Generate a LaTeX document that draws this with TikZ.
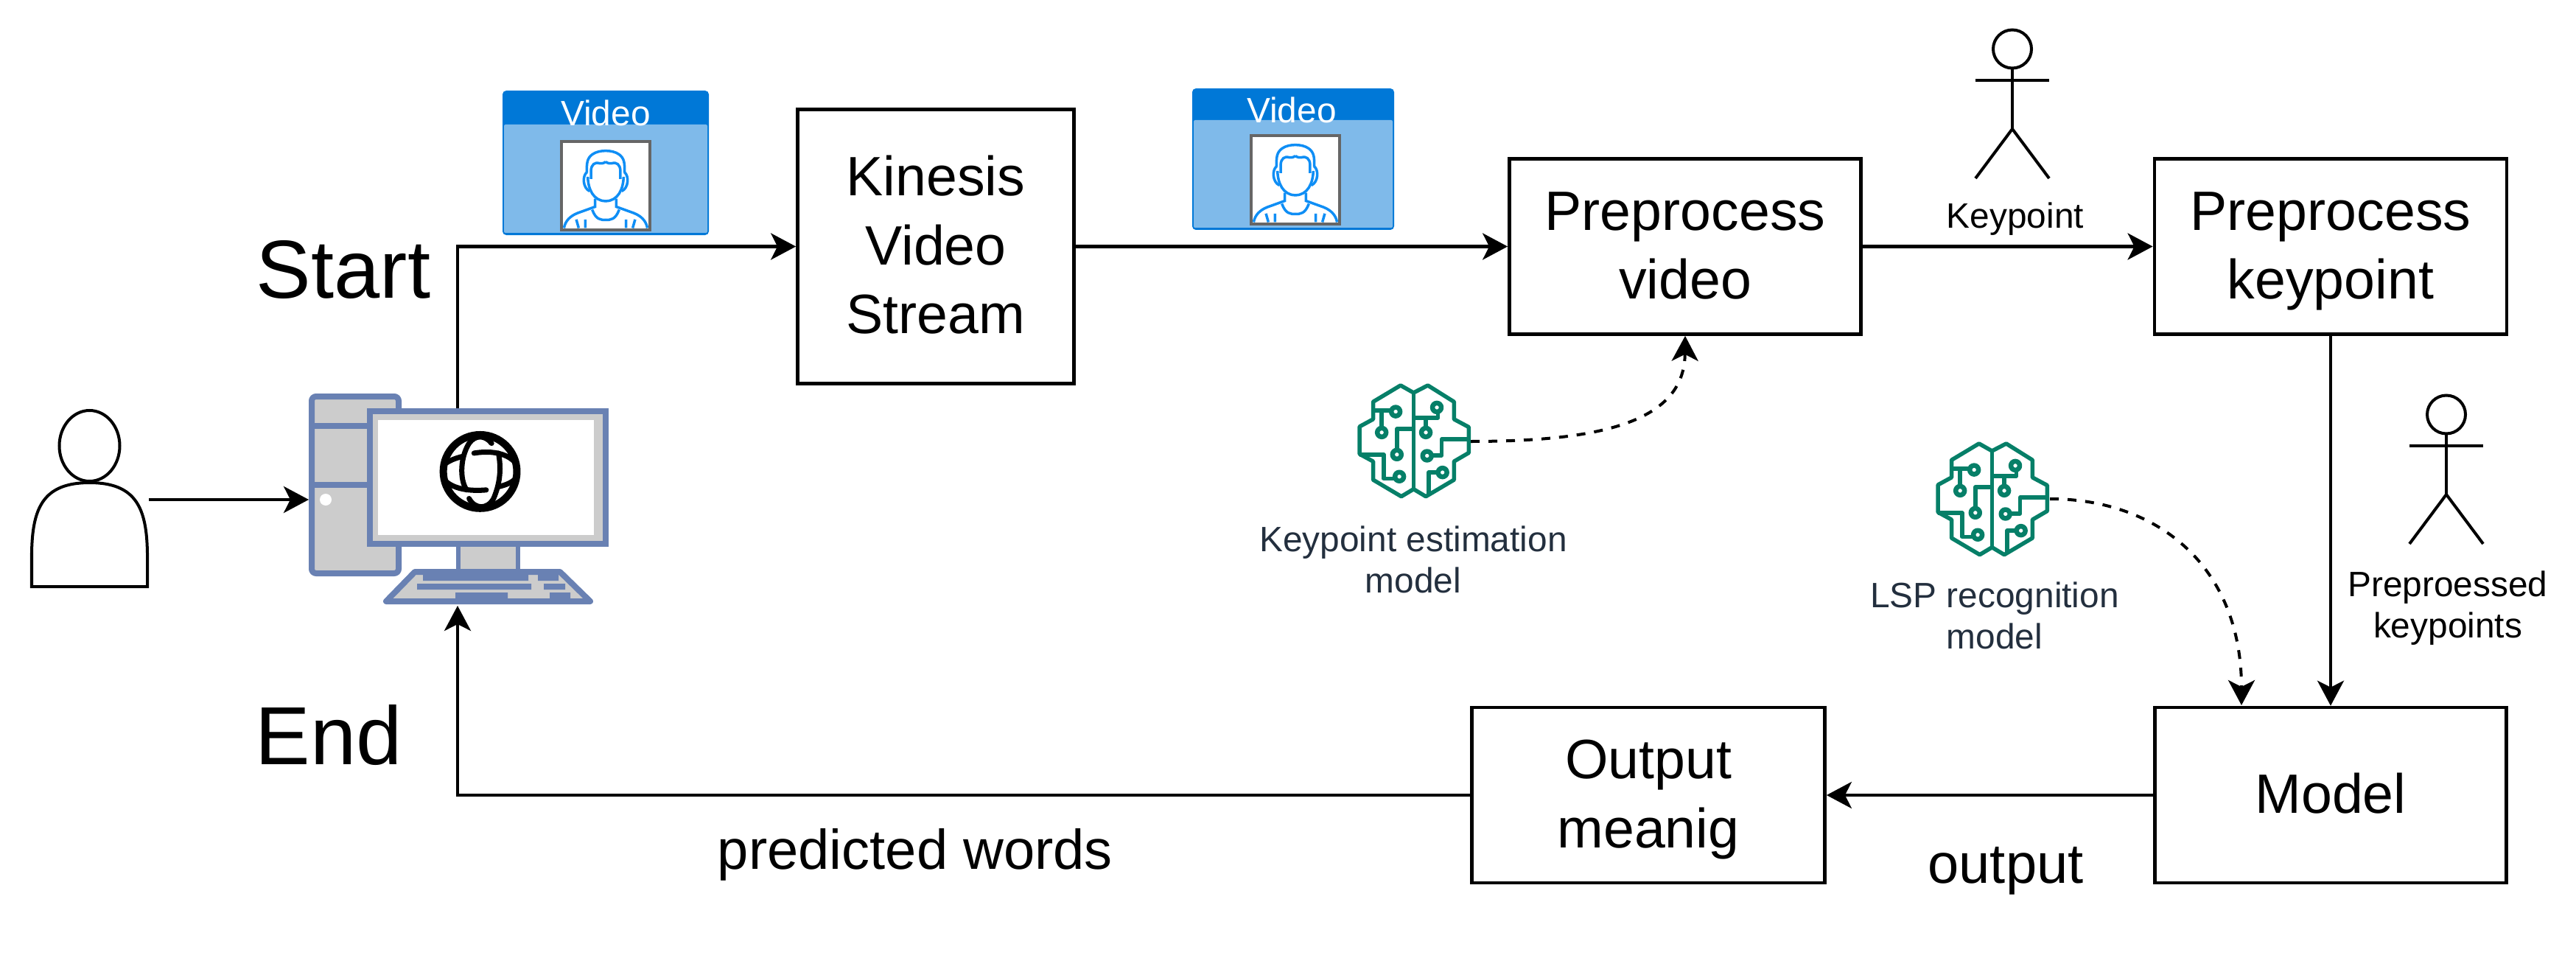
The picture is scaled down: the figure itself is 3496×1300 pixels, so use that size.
\documentclass[tikz,border=0pt]{standalone}
\usepackage{fontspec}
\setmainfont{Liberation Sans}
\usetikzlibrary{arrows.meta}

\definecolor{pcblue}{HTML}{6981B3}
\definecolor{pcgray}{HTML}{CCCCCC}
\definecolor{carddark}{HTML}{0078D7}
\definecolor{cardlight}{HTML}{7FBAEA}
\definecolor{faceblue}{HTML}{0F8EF5}
\definecolor{framegray}{HTML}{666666}
\definecolor{braingreen}{HTML}{067F68}
\definecolor{modeltext}{HTML}{232F3E}

\newcommand{\boxfont}{\fontsize{21.4}{26.5}\selectfont}
\newcommand{\smallfont}{\fontsize{13.6}{15.9}\selectfont}
\newcommand{\bigfont}{\fontsize{31.8}{36}\selectfont}
\newcommand{\midfont}{\fontsize{21.6}{24}\selectfont}
\newcommand{\lift}{\rule{0pt}{0.66cm}}

\tikzset{
	procbox/.style={draw,line width=0.045cm,font=\boxfont,align=center,inner sep=0pt,
		execute at end node={\rule[-0.17cm]{0pt}{0.17cm}}},
	note/.style={font=\smallfont,align=center,inner sep=0pt},
	modelnote/.style={note,text=modeltext},
	flow/.style={line width=0.04cm,-{Stealth[length=0.34cm,width=0.36cm,inset=0.09cm]}},
	dashflow/.style={flow,dash pattern=on 0.12cm off 0.12cm},
	pcpart/.style={draw=pcblue,fill=pcgray,line width=0.08cm},
	stick/.style={line width=0.04cm},
	brainline/.style={draw=braingreen,line width=0.055cm,line join=round,x=0.00333cm,y=-0.00333cm},
	brain/.pic={
		\draw[brainline] (415,160) -- (362,130) -- (250,197) -- (250,268) -- (195,298) -- (195,410) -- (250,440) -- (250,515) -- (365,583) -- (415,553) -- (465,583) -- (580,515) -- (580,440) -- (640,405) -- (640,300) -- (580,268) -- (580,197) -- (473,130) -- cycle;
		\draw[brainline] (415,160) -- (415,553);
		\draw[brainline] (250,233) -- (320,233) (285,233) -- (285,300);
		\draw[brainline] (415,307) -- (347,307) -- (347,390);
		\draw[brainline] (195,412) -- (293,412) -- (293,510) -- (335,510);
		\draw[brainline] (415,262) -- (515,262) -- (515,240) (465,262) -- (465,300);
		\draw[brainline] (640,350) -- (530,350) -- (530,415) -- (495,415);
		\draw[brainline] (510,485) -- (477,485) -- (477,575);
		\foreach \cx/\cy in {342/237,285/322,347/412,357/502,510/220,465/322,470/417,533/485}
		\draw[brainline,fill=white,line width=0.065cm] (\cx,\cy) circle (18);
	}
}

\begin{document}
\begin{tikzpicture}[x=0.01cm,y=-0.01cm]
	\useasboundingbox (0,0) rectangle (3496,1300);

	% Persona
	\draw[line width=0.04cm] (121.5,605) ellipse (41 and 48);
	\draw[line width=0.04cm] (43,796) -- (43,750) .. controls (44,690) and (58,655) .. (121.5,655) .. controls (185,655) and (199,690) .. (200,750) -- (200,796) -- cycle;
	\coordinate (personOut) at (202,678);

	% Computer
	\draw[pcpart,rounded corners=0.06cm] (423,538) rectangle (541,778);
	\foreach \y in {578,658}
	\draw[draw=pcblue,line width=0.08cm] (423,\y) -- (502,\y);
	\fill[white] (442,678) ellipse (8 and 8);
	\draw[pcpart,line width=0.06cm] (622,738) rectangle (703,775);
	\draw[pcpart] (502,558) rectangle (822,738);
	\fill[white] (513,570) rectangle (806,726);
	\draw[pcpart,line join=round] (563,776) -- (760,776) -- (801,816) -- (524,816) -- cycle;
	\foreach \ya/\xa/\xb/\xc/\xd in {780/574/717/730/758,792/566/721/738/767,804/618/689/746/774}
	\fill[pcblue] (\xa,\ya) rectangle (\xb,\ya+8) (\xc,\ya) rectangle (\xd,\ya+8);
	\coordinate (pcIn) at (419,678);
	\coordinate (pcTop) at (621,554);
	\coordinate (pcBottom) at (621,822);

	% Globo
	\begin{scope}[shift={(580,570)},x=0.00333cm,y=-0.00333cm,line width=0.07cm,line cap=round]
		\draw[line width=0.1cm] (215,210) circle (150);
		\draw (262,95) .. controls (235,60) and (195,60) .. (170,95) .. controls (135,150) and (130,240) .. (160,285);
		\draw (70,245) .. controls (110,285) and (180,290) .. (240,285);
		\draw (190,135) .. controls (250,125) and (320,130) .. (360,175);
		\draw (290,135) .. controls (300,190) and (300,250) .. (270,320) .. controls (245,365) and (195,365) .. (170,320);
		\draw (70,180) .. controls (90,165) and (115,155) .. (145,148);
		\draw (290,272) .. controls (320,265) and (345,255) .. (360,238);
	\end{scope}

	% Schede video
	\foreach \n/\cardx/\cardy/\cardw/\cardh/\headh/\facex/\facey/\textx/\texty in {A/682/123/280/196/46/78/67/822/171,B/1618/120/274/192/43/78/62/1753/167}{
		\fill[carddark,rounded corners=0.05cm] (\cardx,\cardy) rectangle (\cardx+\cardw,\cardy+\cardh);
		\fill[cardlight,rounded corners=0.02cm] (\cardx+2,\cardy+\headh) rectangle (\cardx+\cardw-2,\cardy+\cardh-3);
		\node[anchor=base,text=white,note,inner sep=0pt] (video\n) at (\textx,\texty) {Video};
		\draw[draw=framegray,fill=white,line width=0.04cm] (\cardx+\facex+2,\cardy+\facey+2) rectangle (\cardx+\facex+122,\cardy+\facey+122);
		\foreach \s in {1,-1}{
			\begin{scope}[shift={(\cardx+\facex+62,\cardy+\facey)},x=\s*0.00333cm,y=-0.00333cm,draw=faceblue,line width=0.035cm]
				\draw (-77,134) .. controls (-78,90) and (-75,75) .. (-55,59) .. controls (-40,48) and (-20,44) .. (0,44);
				\draw (-60,159) -- (-60,124) .. controls (-58,100) and (-45,89) .. (-25,95) .. controls (-18,96) and (-10,96) .. (0,89);
				\draw (-77,132) .. controls (-95,145) and (-95,195) .. (-65,209);
				\draw (-73,150) .. controls (-72,200) and (-50,249) .. (0,249);
				\draw (-43,239) -- (-43,272) -- (-115,298) .. controls (-145,310) and (-165,330) .. (-170,359);
				\draw (-55,284) .. controls (-40,325) and (-20,326) .. (0,326);
				\draw (-120,324) -- (-110,359) (-83,324) -- (-83,359);
			\end{scope}
		}
	}

	% Blocchi
	\node[procbox,minimum width=3.75cm,minimum height=3.72cm] (kinesis) at (1270,334.5) {\lift Kinesis\\Video\\Stream};
	\node[procbox,minimum width=4.77cm,minimum height=2.38cm] (prevideo) at (2287,334.5) {\lift Preprocess\\video};
	\node[procbox,minimum width=4.78cm,minimum height=2.38cm] (prekey) at (3163,334.5) {\lift Preprocess\\keypoint};
	\node[procbox,minimum width=4.77cm,minimum height=2.38cm] (model) at (3163,1079) {\lift Model};
	\node[procbox,minimum width=4.79cm,minimum height=2.38cm] (output) at (2237,1079) {\lift Output\\meanig};

	% Omini stilizzati
	\foreach \hx/\hy in {2731/41,3320/537}{
		\draw[stick] (\hx,\hy+25.5) circle (26);
		\draw[stick] (\hx,\hy+51) -- (\hx,\hy+134) (\hx-50,\hy+68) -- (\hx+50,\hy+68);
		\draw[stick] (\hx-50,\hy+201) -- (\hx,\hy+134) -- (\hx+50,\hy+201);
	}

	% Icone modello
	\pic (brainA) at (1780.3,479.7) {brain};
	\pic (brainB) at (2565.3,558.7) {brain};
	\coordinate (brainAout) at (1996,599);
	\coordinate (brainBout) at (2782,677);
	\coordinate (modelIn) at (3042,957);

	% Testi
	\node[note,anchor=base] (keyLabel) at (2735,310) {Keypoint};
	\node[note] (preLabel) at (3322,825) {Preproessed\\keypoints};
	\node[modelnote] (kpModel) at (1918,759) {Keypoint estimation\\model};
	\node[modelnote] (lspModel) at (2707,835) {LSP recognition\\model};
	\node[font=\bigfont,anchor=base,inner sep=0pt] (startLabel) at (466,404) {Start};
	\node[font=\bigfont,anchor=base,inner sep=0pt] (endLabel) at (446,1037) {End};
	\node[font=\midfont,anchor=base,inner sep=0pt] (wordsLabel) at (1242,1179) {predicted words};
	\node[font=\midfont,anchor=base,inner sep=0pt] (outLabel) at (2722,1198) {output};

	% Frecce
	\draw[flow] (personOut) -- (pcIn);
	\draw[flow] (pcTop) |- (kinesis.west);
	\draw[flow] (kinesis.east) -- (prevideo.west);
	\draw[flow] (prevideo.east) -- (prekey.west);
	\draw[flow] (prekey.south) -- (model.north);
	\draw[flow] (model.west) -- (output.east);
	\draw[flow] (output.west) -| (pcBottom);
	\draw[dashflow] (brainAout) .. controls (2180,599) and (2286,570) .. (prevideo.south);
	\draw[dashflow] (brainBout) .. controls (2930,677) and (3042,770) .. (modelIn);
\end{tikzpicture}
\end{document}
